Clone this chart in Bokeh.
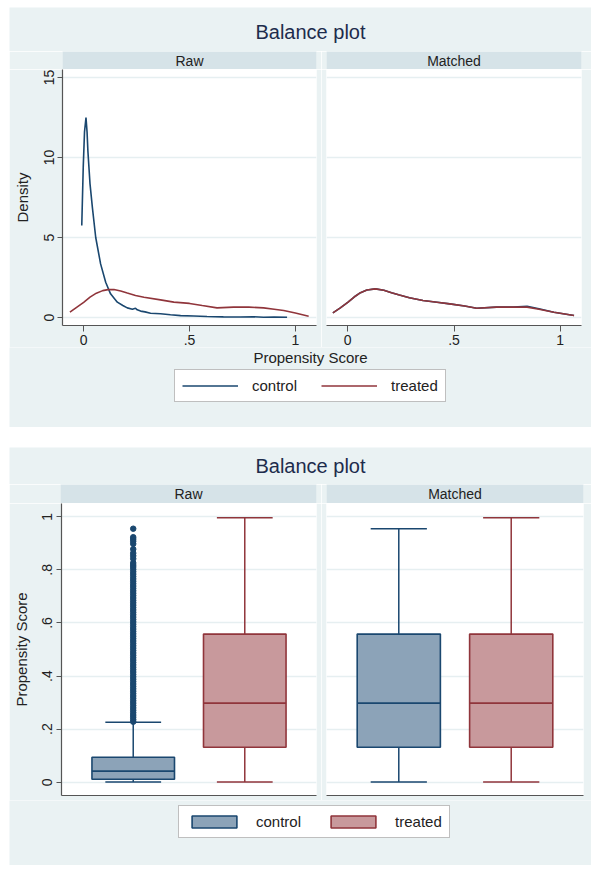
from bokeh.plotting import figure
from bokeh.layouts import column, row
from bokeh.models import (Range1d, Legend, LegendItem, FixedTicker, ColumnDataSource)
from bokeh.transform import dodge
from bokeh.embed import file_html
from bokeh.resources import INLINE
from bokeh.core.properties import value

# ---------------- data ----------------
chart_title = "Balance plot"
panels = ["Raw", "Matched"]
groups = ["control", "treated"]
group_pos = [1, 2]

dens_xticks = [0, 0.5, 1]
dens_xlabels = {0: "0", 0.5: ".5", 1: "1"}
dens_yticks = [0, 5, 10, 15]
dens_ylabels = {0: "0", 5: "5", 10: "10", 15: "15"}

box_yticks = [0, 0.2, 0.4, 0.6, 0.8, 1]
box_ylabels = {0: "0", 0.2: ".2", 0.4: ".4", 0.6: ".6", 0.8: ".8", 1: "1"}

# kernel densities
raw_control_x = [-0.009, -0.002, 0.004, 0.011, 0.016, 0.020, 0.030, 0.041, 0.057, 0.080,
                 0.104, 0.127, 0.159, 0.185, 0.206, 0.230, 0.245, 0.253, 0.269, 0.290,
                 0.316, 0.363, 0.410, 0.458, 0.520, 0.583, 0.660, 0.740, 0.800, 0.850,
                 0.900, 0.961]
raw_control_y = [5.75, 9.4, 11.6, 12.5, 11.6, 10.4, 8.35, 6.9, 5.0, 3.35,
                 2.2, 1.48, 0.96, 0.75, 0.6, 0.52, 0.58, 0.48, 0.40, 0.35,
                 0.27, 0.23, 0.17, 0.12, 0.09, 0.06, 0.04, 0.03, 0.05, 0.02,
                 0.03, 0.02]

raw_treated_x = [-0.065, -0.035, 0.0, 0.03, 0.06, 0.09, 0.115, 0.143, 0.175, 0.206,
                 0.245, 0.285, 0.363, 0.426, 0.50, 0.56, 0.63, 0.708, 0.78, 0.85,
                 0.90, 0.945, 1.0, 1.063]
raw_treated_y = [0.33, 0.62, 0.95, 1.27, 1.52, 1.68, 1.74, 1.75, 1.66, 1.53,
                 1.38, 1.27, 1.1, 0.96, 0.88, 0.75, 0.6, 0.65, 0.65, 0.6,
                 0.52, 0.44, 0.28, 0.08]

matched_control_x = [-0.07, -0.035, 0.0, 0.03, 0.06, 0.09, 0.13, 0.17, 0.206, 0.243,
                     0.29, 0.354, 0.42, 0.48, 0.55, 0.607, 0.70, 0.78, 0.844, 0.90,
                     0.97, 1.065]
matched_control_y = [0.29, 0.6, 0.95, 1.28, 1.55, 1.72, 1.79, 1.7, 1.55, 1.4,
                     1.24, 1.06, 0.95, 0.85, 0.72, 0.58, 0.65, 0.66, 0.7, 0.55,
                     0.33, 0.12]
matched_treated_x = [-0.07, -0.035, 0.0, 0.03, 0.06, 0.09, 0.13, 0.17, 0.206, 0.243,
                     0.29, 0.354, 0.42, 0.48, 0.55, 0.607, 0.70, 0.78, 0.844, 0.90,
                     0.97, 1.065]
matched_treated_y = [0.29, 0.6, 0.95, 1.28, 1.55, 1.72, 1.79, 1.7, 1.55, 1.4,
                     1.24, 1.06, 0.95, 0.85, 0.72, 0.58, 0.65, 0.65, 0.65, 0.52,
                     0.33, 0.12]

# box plot summaries
raw_q1 = [0.011, 0.132]
raw_med = [0.042, 0.298]
raw_q3 = [0.094, 0.558]
raw_lo = [0.001, 0.001]
raw_hi = [0.226, 0.996]
raw_outliers = [0.228, 0.236, 0.245, 0.253, 0.262, 0.271, 0.280, 0.289, 0.298, 0.307,
                0.316, 0.325, 0.334, 0.343, 0.352, 0.361, 0.370, 0.379, 0.388, 0.397,
                0.406, 0.415, 0.424, 0.433, 0.442, 0.451, 0.460, 0.469, 0.478, 0.487,
                0.496, 0.505, 0.514, 0.523, 0.532, 0.541, 0.550, 0.559, 0.568, 0.577,
                0.586, 0.595, 0.604, 0.613, 0.622, 0.631, 0.640, 0.649, 0.658, 0.667,
                0.676, 0.685, 0.694, 0.703, 0.712, 0.721, 0.730, 0.739, 0.748, 0.757,
                0.766, 0.775, 0.784, 0.793, 0.802, 0.811, 0.818, 0.826, 0.842, 0.853,
                0.863, 0.878, 0.898, 0.908, 0.916, 0.923, 0.955]

matched_q1 = [0.132, 0.132]
matched_med = [0.298, 0.298]
matched_q3 = [0.558, 0.558]
matched_lo = [0.001, 0.001]
matched_hi = [0.955, 0.996]

# ---------------- style ----------------
FONT = "Liberation Sans"
BG = "#EAF2F3"
STRIP = "#D6E3E8"
GRID = "#E6EFF1"
NAVY = "#1a476f"
MAROON = "#90353b"
NAVY_FILL = "#8CA3B8"
MAROON_FILL = "#C8999C"
AXIS = "#555555"
TEXT = "#222222"
TITLE = "#1d2c4c"
W = 582
CX = 301          # horizontal centre of titles / legends inside a chart
NAN = float("nan")


def base(width, height, xr, yr, **kw):
    p = figure(width=width, height=height, x_range=xr, y_range=yr,
               toolbar_location=None, output_backend="svg", min_border=0, **kw)
    p.outline_line_color = None
    p.border_fill_color = BG
    return p


def text_fig(height, label, ypos, size):
    p = base(W, height, Range1d(0, W), Range1d(0, height),
             x_axis_type=None, y_axis_type=None)
    p.background_fill_color = BG
    p.text(x=[CX], y=[ypos], text=[label], text_align="center", text_baseline="middle",
           text_font=value(FONT), text_font_size=size, text_color=TITLE)
    return p


def strip(label, width, height, left, right):
    p = base(width, height, Range1d(0, 1), Range1d(0, 1),
             x_axis_type=None, y_axis_type=None,
             min_border_left=left, min_border_right=right)
    p.background_fill_color = STRIP
    p.text(x=[0.5], y=[0.5], text=[label], text_align="center", text_baseline="middle",
           text_font=value(FONT), text_font_size="14px", text_color=TEXT)
    return p


def style_axes(p, show_y):
    for ax in (p.xaxis[0], p.yaxis[0]):
        ax.axis_line_color = AXIS
        ax.axis_line_width = 1.2
        ax.major_tick_line_color = AXIS
        ax.major_tick_in = 0
        ax.major_tick_out = 5
        ax.minor_tick_line_color = None
        ax.major_label_text_font = FONT
        ax.major_label_text_font_size = "14px"
        ax.major_label_text_color = TEXT
        ax.axis_label_text_font = FONT
        ax.axis_label_text_font_size = "15px"
        ax.axis_label_text_font_style = "normal"
        ax.axis_label_text_color = TEXT
    p.yaxis.major_label_orientation = "vertical"
    p.yaxis.major_label_standoff = 4
    p.yaxis.axis_label_standoff = 10
    p.xgrid.visible = False
    p.ygrid.grid_line_color = GRID
    p.ygrid.grid_line_width = 1.5
    if not show_y:
        p.yaxis.visible = False


def density_panel(width, left, right, show_y, cx, cy, tx, ty):
    p = base(width, 278, Range1d(-0.1, 1.1), Range1d(-0.5, 15.5),
             min_border_left=left, min_border_right=right, min_border_bottom=22)
    p.background_fill_color = "white"
    style_axes(p, show_y)
    p.xaxis.ticker = FixedTicker(ticks=dens_xticks)
    p.xaxis.major_label_overrides = dens_xlabels
    p.xaxis.major_tick_out = 6
    p.xaxis.major_label_standoff = 3
    p.yaxis.ticker = FixedTicker(ticks=dens_yticks)
    p.yaxis.major_label_overrides = dens_ylabels
    p.ygrid.ticker = FixedTicker(ticks=dens_yticks)
    if show_y:
        p.yaxis.axis_label = "Density"
    p.line(cx, cy, line_color=NAVY, line_width=1.6)
    p.line(tx, ty, line_color=MAROON, line_width=1.6)
    return p


def box_panel(width, left, right, show_y, q1, med, q3, lo, hi, outliers):
    p = base(width, 297, Range1d(0.357, 2.643), Range1d(-0.05, 1.05),
             min_border_left=left, min_border_right=right, min_border_bottom=5)
    p.background_fill_color = "white"
    style_axes(p, show_y)
    p.xaxis.ticker = FixedTicker(ticks=[])
    p.xaxis.major_tick_out = 0
    p.xaxis.major_label_standoff = 0
    p.yaxis.ticker = FixedTicker(ticks=box_yticks)
    p.yaxis.major_label_overrides = box_ylabels
    p.ygrid.ticker = FixedTicker(ticks=box_yticks)
    if show_y:
        p.yaxis.axis_label = "Propensity Score"
    src = ColumnDataSource(dict(pos=group_pos, q1=q1, med=med, q3=q3, lo=lo, hi=hi,
                                fill=[NAVY_FILL, MAROON_FILL], line=[NAVY, MAROON]))
    if outliers:
        p.scatter(x=[group_pos[0]] * len(outliers), y=outliers, size=5.5,
                  fill_color=NAVY, line_color=NAVY)
    p.segment(x0="pos", y0="q3", x1="pos", y1="hi", line_color="line",
              line_width=1.5, source=src)
    p.segment(x0="pos", y0="q1", x1="pos", y1="lo", line_color="line",
              line_width=1.5, source=src)
    for col in ("hi", "lo"):
        p.segment(x0=dodge("pos", -0.25), y0=col, x1=dodge("pos", 0.25), y1=col,
                  line_color="line", line_width=1.5, source=src)
    p.vbar(x="pos", width=0.74, bottom="q1", top="q3", fill_color="fill",
           line_color="line", line_width=1.6, source=src)
    p.segment(x0=dodge("pos", -0.37), y0="med", x1=dodge("pos", 0.37), y1="med",
              line_color="line", line_width=1.6, source=src)
    return p


def legend_fig(height, loc, kind, label=None, label_y=None):
    p = base(W, height, Range1d(0, W), Range1d(0, height),
             x_axis_type=None, y_axis_type=None)
    p.background_fill_color = BG
    if label:
        p.text(x=[CX], y=[label_y], text=[label], text_align="center",
               text_baseline="middle", text_font=value(FONT), text_font_size="15px",
               text_color=TEXT)
    rs = []
    for lc, fc in ((NAVY, NAVY_FILL), (MAROON, MAROON_FILL)):
        if kind == "line":
            rs.append(p.line(x=[NAN], y=[NAN], line_color=lc, line_width=1.6))
        else:
            rs.append(p.quad(left=[NAN], right=[NAN], top=[NAN], bottom=[NAN],
                             fill_color=fc, line_color=lc, line_width=1.6))
    leg = Legend(items=[LegendItem(label=g, renderers=[r]) for g, r in zip(groups, rs)],
                 orientation="horizontal", location=loc, margin=0, padding=7,
                 spacing=24, label_standoff=14, glyph_width=56, glyph_height=15,
                 label_height=15, label_text_font=FONT, label_text_font_size="15px",
                 label_text_color=TEXT, border_line_color="#808080",
                 border_line_width=1, background_fill_color="white",
                 background_fill_alpha=1)
    p.add_layout(leg, "center")
    return p


# ---------------- top chart: densities ----------------
top = column(
    text_fig(44, chart_title, 20, "20px"),
    row(strip(panels[0], 312, 18, 53, 5), strip(panels[1], 270, 18, 5, 10)),
    row(density_panel(312, 53, 5, True, raw_control_x, raw_control_y,
                      raw_treated_x, raw_treated_y),
        density_panel(270, 5, 10, False, matched_control_x, matched_control_y,
                      matched_treated_x, matched_treated_y)),
    legend_fig(80, (165, 25), "line", "Propensity Score", 70),
)

# ---------------- bottom chart: box plots ----------------
bottom = column(
    text_fig(37, chart_title, 19, "20px"),
    row(strip(panels[0], 312, 19, 51, 5), strip(panels[1], 270, 19, 5, 8)),
    row(box_panel(312, 51, 5, True, raw_q1, raw_med, raw_q3, raw_lo, raw_hi, raw_outliers),
        box_panel(270, 5, 8, False, matched_q1, matched_med, matched_q3, matched_lo,
                  matched_hi, None)),
    legend_fig(65, (169, 27), "box"),
)

page = column(top, bottom, spacing=20, margin=(7, 0, 0, 9))
open("out.html", "w").write(file_html(page, INLINE))
